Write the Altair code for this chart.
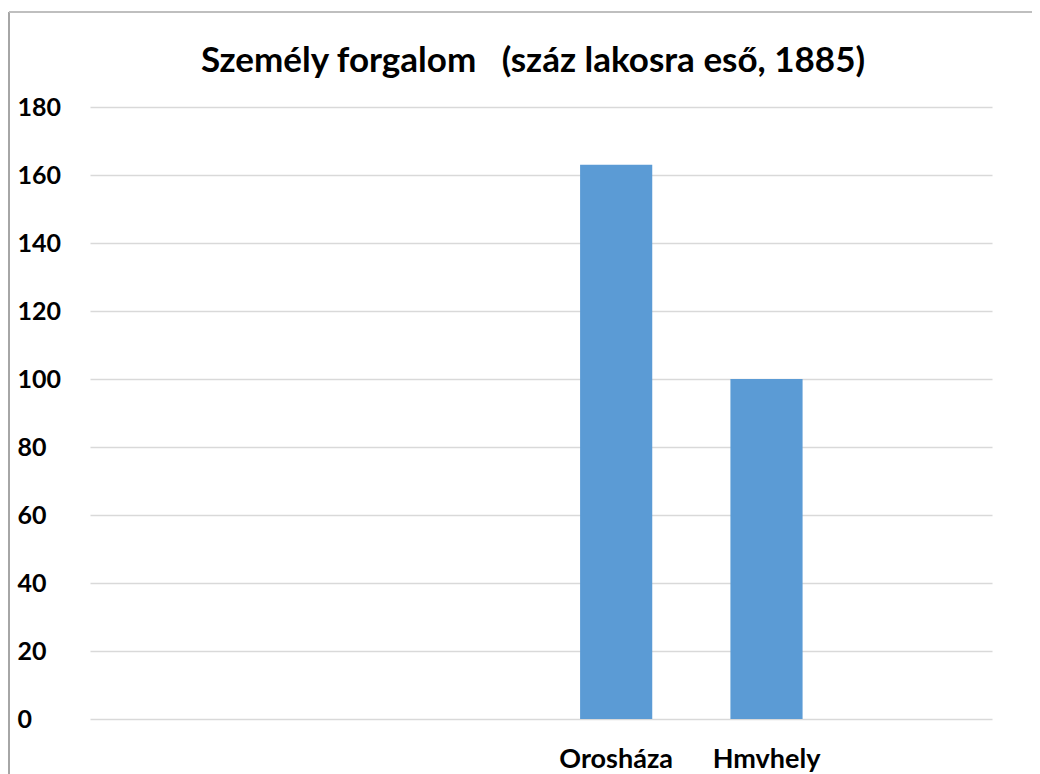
import altair as alt
import pandas as pd

categories = ["c1", "c2", "c3", "Orosháza", "Hmvhely", "c6"]
values = [None, None, None, 163, 100, None]
shown_labels = ["Orosháza", "Hmvhely"]
y_ticks = [0, 20, 40, 60, 80, 100, 120, 140, 160, 180]
title_text = "Személy forgalom\u00a0\u00a0\u00a0(száz lakosra eső, 1885)"

df = pd.DataFrame({"cat": categories, "val": values})

FONT = "Lato"

bars = alt.Chart(df).mark_bar(color="#5b9bd5").encode(
    x=alt.X("cat:N", sort=categories, title=None,
            scale=alt.Scale(paddingInner=0.52, paddingOuter=0.26),
            axis=alt.Axis(labelExpr="indexof(['Orosháza','Hmvhely'], datum.value) >= 0 ? datum.value : ''",
                          labelAngle=0, ticks=False, domain=False, labelPadding=27,
                          labelFont=FONT, labelFontSize=27, labelFontWeight="bold",
                          labelColor="#000000")),
    y=alt.Y("val:Q", title=None,
            scale=alt.Scale(domain=[0, 180], nice=False),
            axis=alt.Axis(values=y_ticks, ticks=False, domain=False, labelAlign="left",
                          labelPadding=73, labelFont=FONT, labelFontSize=25,
                          labelFontWeight="bold", labelColor="#000000",
                          gridColor="#d9d9d9", gridWidth=1.5)),
)

title_df = pd.DataFrame({"t": [title_text]})
title_mark = alt.Chart(title_df).mark_text(
    font=FONT, fontSize=35, fontWeight="bold", color="#000000",
    align="center", baseline="alphabetic"
).encode(text="t:N", x=alt.value(443), y=alt.value(-35))

left_border = alt.Chart(df).mark_rule(color="#a6a6a6", strokeWidth=1.5).encode(
    x=alt.value(-81), y=alt.value(-95), y2=alt.value(720)
)
top_border = alt.Chart(df).mark_rule(color="#bfbfbf", strokeWidth=1.5).encode(
    x=alt.value(-81), x2=alt.value(960), y=alt.value(-95)
)

chart = alt.layer(bars, title_mark, left_border, top_border).properties(
    width=902, height=612,
    autosize=alt.AutoSizeParams(type="none"),
    padding={"left": 82, "top": 99, "right": 40, "bottom": 55},
).configure_view(stroke=None)

chart.save("out.html", embed_options={"renderer": "svg", "actions": False})
